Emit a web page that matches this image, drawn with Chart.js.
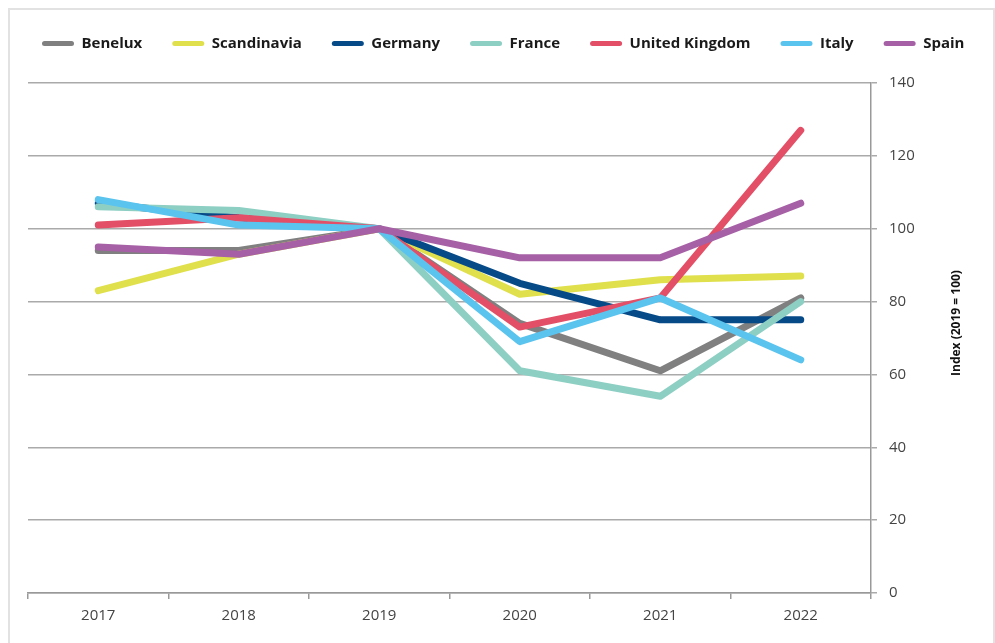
<!DOCTYPE html>
<html>
<head>
<meta charset="utf-8">
<script src="https://cdn.jsdelivr.net/npm/chart.js@4/dist/chart.umd.min.js"></script>
<style>
  html, body { margin: 0; padding: 0; background: #fff; }
  #wrap { position: relative; width: 995px; height: 643px; }
  #frame { position: absolute; left: 8px; top: 8px; width: 983px; height: 650px; border: 2px solid #e2e2e2; pointer-events: none; }
</style>
</head>
<body>
<div id="wrap">
  <canvas id="c" width="995" height="643"></canvas>
  <div id="frame"></div>
</div>
<script>
const years = ['2017', '2018', '2019', '2020', '2021', '2022'];
const benelux     = [94, 94, 100, 74, 61, 81];
const scandinavia = [83, 93, 100, 82, 86, 87];
const germany     = [107, 103, 100, 85, 75, 75];
const france      = [106, 105, 100, 61, 54, 80];
const uk          = [101, 103, 100, 73, 81, 127];
const italy       = [108, 101, 100, 69, 81, 64];
const spain       = [95, 93, 100, 92, 92, 107];
const yTicks = [0, 20, 40, 60, 80, 100, 120, 140];
const yTitle = 'Index (2019 = 100)';

const series = [
  ['Benelux', benelux, '#808080'],
  ['Scandinavia', scandinavia, '#dfe04c'],
  ['Germany', germany, '#064a88'],
  ['France', france, '#8ecfc4'],
  ['United Kingdom', uk, '#e24f67'],
  ['Italy', italy, '#5ac4ef'],
  ['Spain', spain, '#a660a5']
];

const datasets = series.map((s, i) => ({
  label: s[0],
  data: s[1],
  borderColor: s[2],
  backgroundColor: s[2],
  borderWidth: 7,
  borderCapStyle: 'round',
  borderJoinStyle: 'round',
  pointRadius: 0,
  tension: 0,
  order: series.length - i
}));

const legendFix = {
  id: 'legendFix',
  afterInit(chart) {
    const lg = chart.legend;
    if (!lg) return;
    const orig = lg.fit.bind(lg);
    lg.fit = function () {
      const mw = this.maxWidth;
      this.maxWidth = 2000;
      orig();
      this.maxWidth = mw;
      this.width = mw;
      this.height = 77;
    };
  },
  afterLayout(chart) {
    const lg = chart.legend;
    if (!lg) return;
    lg.left = 12;
    lg.right = 2000;
  }
};

const titlePlugin = {
  id: 'yTitle',
  afterDraw(chart) {
    const ctx = chart.ctx;
    const a = chart.chartArea;
    ctx.save();
    ctx.translate(957, (a.top + a.bottom) / 2 - 15);
    ctx.rotate(-Math.PI / 2);
    ctx.font = 'bold 12px "Open Sans"';
    ctx.fillStyle = '#111';
    ctx.textAlign = 'center';
    ctx.textBaseline = 'middle';
    ctx.fillText(yTitle, 0, 0);
    ctx.restore();
  }
};

new Chart(document.getElementById('c'), {
  type: 'line',
  data: { labels: years, datasets },
  options: {
    responsive: false,
    animation: false,
    layout: { padding: { left: 28, right: 0, top: 6, bottom: 10 } },
    plugins: {
      tooltip: { enabled: false },
      legend: {
        position: 'top',
        align: 'start',
        labels: {
          font: { family: '"Open Sans"', size: 15, weight: 'bold' },
          color: '#1a1a1a',
          boxWidth: 32,
          boxHeight: 5,
          useBorderRadius: true,
          borderRadius: 2.5,
          padding: 30,
          sort: (a, b) => a.datasetIndex - b.datasetIndex,
          generateLabels: (chart) => Chart.defaults.plugins.legend.labels.generateLabels(chart).map(l => Object.assign(l, { lineWidth: 0, strokeStyle: 'rgba(0,0,0,0)' }))
        }
      }
    },
    scales: {
      x: {
        offset: true,
        grid: { display: true, drawOnChartArea: false, drawTicks: true, tickLength: 6, offset: true, color: '#999', lineWidth: 1.5 },
        border: { display: true, color: '#999', width: 1.5 },
        ticks: { font: { family: '"Open Sans"', size: 15 }, color: '#444', padding: 8 }
      },
      y: {
        position: 'right',
        min: 0,
        max: 140,
        afterBuildTicks: (s) => { s.ticks = yTicks.map(v => ({ value: v })); },
        afterFit: (s) => { s.width = 124; },
        grid: { color: '#aaa', lineWidth: 1.5, drawTicks: true, tickLength: 6 },
        border: { display: true, color: '#999', width: 1.5 },
        ticks: { font: { family: '"Open Sans"', size: 15 }, color: '#444', padding: 12 }
      }
    }
  },
  plugins: [legendFix, titlePlugin]
});
</script>
</body>
</html>
